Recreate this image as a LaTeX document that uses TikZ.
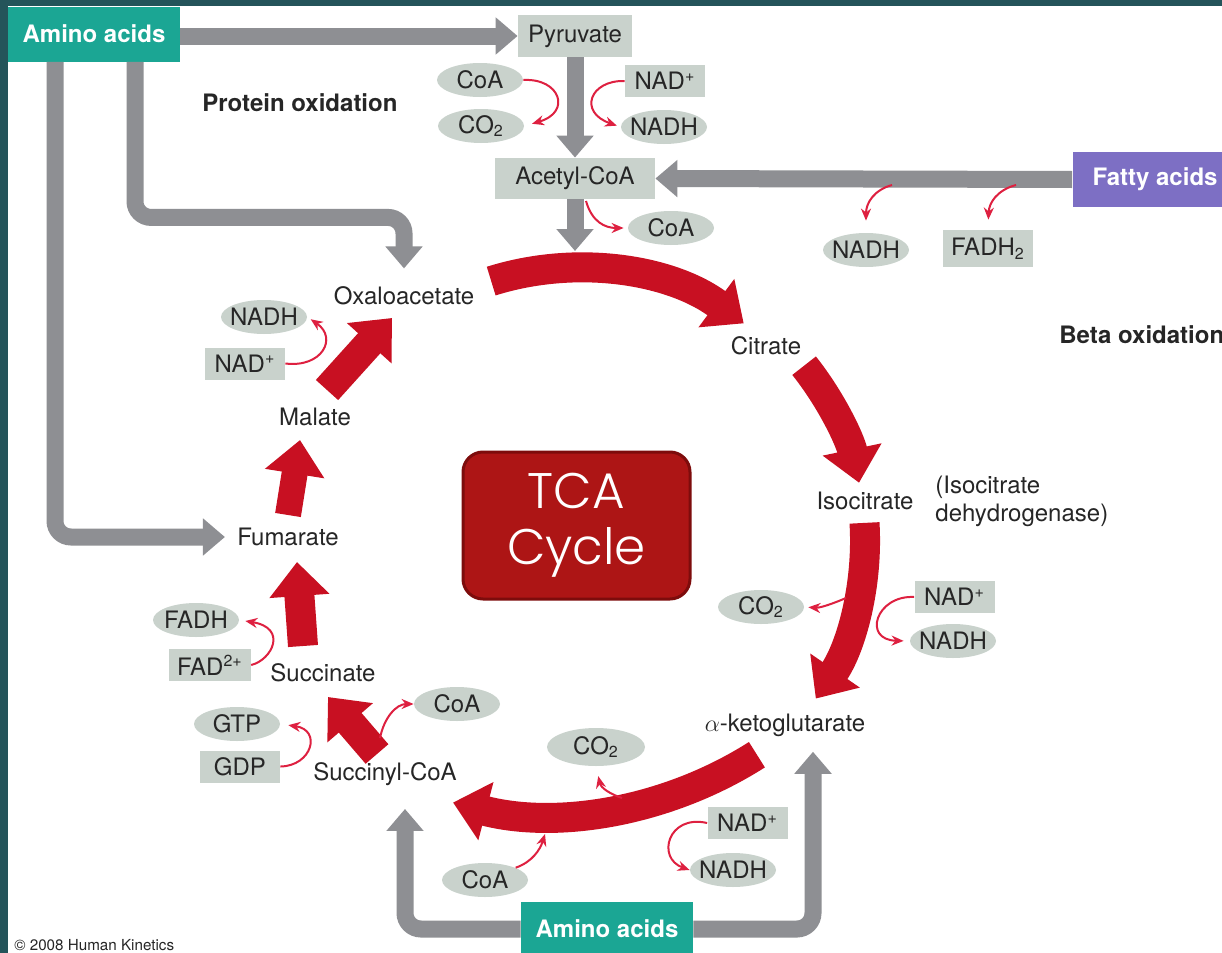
\documentclass[tikz,border=0pt]{standalone}
\usepackage{fontspec}
\setmainfont{TeX Gyre Heros}
\newfontfamily\tcafont{Poppins Light}
\usetikzlibrary{arrows.meta,shapes.geometric}

\definecolor{frameteal}{RGB}{36,84,90}
\definecolor{aateal}{RGB}{27,166,148}
\definecolor{fapurple}{RGB}{125,111,196}
\definecolor{molfill}{RGB}{201,210,204}
\definecolor{arrgray}{RGB}{142,143,147}
\definecolor{cycred}{RGB}{200,16,34}
\definecolor{rxnred}{RGB}{222,32,64}
\definecolor{tcafill}{RGB}{173,21,21}
\definecolor{tcaedge}{RGB}{125,12,12}
\definecolor{inkgray}{RGB}{38,38,38}

\begin{document}
\begin{tikzpicture}[x=0.5pt, y=-0.5pt, font=\fontsize{12}{14}\selectfont,
    lbl/.style={text=inkgray, inner sep=1pt},
    boldlbl/.style={lbl, font=\fontsize{12}{14}\selectfont\bfseries, anchor=west},
    molbox/.style={fill=molfill, text=inkgray, minimum width=40pt, minimum height=16pt, inner xsep=4pt, inner ysep=0pt},
    prodell/.style={ellipse, fill=molfill, text=inkgray, minimum width=43pt, minimum height=17pt, inner sep=-2pt},
    aabox/.style={fill=aateal, text=white, font=\fontsize{12}{14}\selectfont\bfseries, minimum width=86pt, minimum height=27.5pt, inner sep=0pt},
    fabox/.style={fill=fapurple, text=white, font=\fontsize{12}{14}\selectfont\bfseries, minimum width=82.5pt, minimum height=27.5pt, inner sep=0pt},
    tcabox/.style={fill=tcafill, draw=tcaedge, line width=1.5pt, rounded corners=10pt, text=white,
        font=\tcafont\fontsize{25}{28}\selectfont, align=center, minimum width=113.5pt, minimum height=73.5pt},
    grayarrow/.style={draw=arrgray, line width=8.5pt, rounded corners=8pt, -{Triangle[width=18pt, length=11pt]}},
    cycarrow/.style={draw=cycred, line width=15pt, -{Triangle[width=29pt, length=17pt]}},
    rxn/.style={draw=rxnred, line width=1pt, -{Stealth[length=6pt, width=5pt]}}]

    % ==========================================
    % 1. FRAME (pixel coordinates, y downwards)
    % ==========================================
    \useasboundingbox (0,0) rectangle (1222,953);
    \fill[frameteal] (0,0) rectangle (1222,953);
    \fill[white] (8,6) rectangle (1222,953);

    % ==========================================
    % 2. METABOLITES
    % ==========================================
    % Feeders
    \node[aabox] (aa1) at (94,34) {Amino acids};
    \node[aabox] (aa2) at (607,929) {Amino acids};
    \node[fabox] (fa) at (1155,179.5) {Fatty acids};
    \node[molbox, minimum width=57pt, minimum height=21pt] (pyr) at (575,36) {Pyruvate};
    \node[molbox, minimum width=80pt, minimum height=20.5pt] (acoa) at (575,178.5) {Acetyl-CoA};

    % Pyruvate dehydrogenase
    \node[prodell] (coa1) at (480,80) {CoA};
    \node[prodell] (co2a) at (481,126) {CO\textsubscript{2}};
    \node[molbox] (nad1) at (665,81) {NAD\textsuperscript{+}};
    \node[prodell] (nadh1) at (664,127) {NADH};
    \node[prodell] (coa2) at (671,228) {CoA};

    % Beta oxidation products
    \node[prodell] (nadh2) at (866,250) {NADH};
    \node[molbox, minimum width=45pt, minimum height=18.5pt] (fadh2) at (988,248.5) {FADH\textsubscript{2}};

    % Cycle intermediates
    \node[lbl] (oaa) at (404,296) {Oxaloacetate};
    \node[lbl] (cit) at (766,346) {Citrate};
    \node[lbl] (iso) at (865,501) {Isocitrate};
    \node[lbl, anchor=west, align=left] (isodh) at (933,501) {(Isocitrate\\dehydrogenase)};
    \node[lbl] (akg) at (785,725) {$\alpha$-ketoglutarate};
    \node[lbl] (sca) at (385,774) {Succinyl-CoA};
    \node[lbl] (succ) at (323,673) {Succinate};
    \node[lbl] (fum) at (288,537) {Fumarate};
    \node[lbl] (mal) at (315,417) {Malate};

    % Cofactors round the cycle
    \node[molbox] (nad3) at (954.5,597) {NAD\textsuperscript{+}};
    \node[prodell] (nadh3) at (953,641) {NADH};
    \node[prodell] (co2b) at (761,607) {CO\textsubscript{2}};
    \node[prodell, minimum width=49pt, minimum height=19pt] (co2c) at (596,747) {CO\textsubscript{2}};
    \node[molbox] (nad4) at (747.5,823) {NAD\textsuperscript{+}};
    \node[prodell] (nadh4) at (733,870) {NADH};
    \node[prodell] (coa4) at (485,880) {CoA};
    \node[prodell] (coa3) at (457,704) {CoA};
    \node[prodell] (gtp) at (237,724) {GTP};
    \node[molbox] (gdp) at (240,766.5) {GDP};
    \node[prodell] (fadh) at (196,620) {FADH};
    \node[molbox] (fad) at (210,665) {FAD\textsuperscript{2+}};
    \node[prodell] (nadh5) at (264,317) {NADH};
    \node[molbox] (nad5) at (245,363.5) {NAD\textsuperscript{+}};

    % Titles
    \node[tcabox] (tca) at (576.5,525.5) {TCA\\Cycle};
    \node[boldlbl] (prot) at (200,103) {Protein oxidation};
    \node[boldlbl] (beta) at (1057,335) {Beta oxidation};
    \node[lbl, anchor=west, font=\fontsize{7.6}{9}\selectfont] (copy) at (12,945) {\textcopyright{} 2008 Human Kinetics};

    % ==========================================
    % 3. GRAY FEEDER ARROWS
    % ==========================================
    \coordinate (cycIn) at (575,251);
    \draw[grayarrow] (aa1.east |- pyr.west) -- (pyr.west);
    \draw[grayarrow] (pyr.south) -- (acoa.north);
    \draw[grayarrow] (acoa.south) -- (cycIn);
    \draw[grayarrow] (fa.west) -- (acoa.east);
    \draw[grayarrow, shorten >=8pt] ([xshift=20.5pt]aa1.south) |- ([yshift=33.5pt]oaa.north) -- (oaa.north);
    \draw[grayarrow, shorten >=5pt] ([xshift=-19.5pt]aa1.south) |- (fum.west);
    \draw[grayarrow] (aa2.west) -| ([xshift=10pt, yshift=-10.5pt]sca.south);
    \draw[grayarrow] (aa2.east) -| ([xshift=14pt, yshift=-6.5pt]akg.south);

    % ==========================================
    % 4. RED CYCLE ARROWS
    % ==========================================
    \coordinate (oaaOut) at (491.2,281.1);
    \coordinate (citOut) at (804.1,365.7);
    \coordinate (isoOut) at (864.5,522.9);
    \coordinate (akgOut) at (756.9,754.7);
    \draw[cycarrow] (oaaOut) arc[start angle=-107.5, end angle=-53.5, radius=282];
    \draw[cycarrow] (citOut) arc[start angle=-38.5, end angle=-11.8, radius=280];
    \draw[cycarrow] (isoOut) arc[start angle=-3.5, end angle=34.5, radius=280];
    \draw[cycarrow] (akgOut) arc[start angle=57.5, end angle=104.6, radius=385];

    \coordinate (scaBase) at (377,754);  \coordinate (succIn) at (328,697);
    \coordinate (succBase) at (303,646); \coordinate (fumIn) at (297,562);
    \coordinate (fumBase) at (288,515);  \coordinate (malIn) at (300,440);
    \coordinate (malBase) at (327,390);  \coordinate (oaaIn) at (392,318);
    \draw[cycarrow] (scaBase) -- (succIn);
    \draw[cycarrow] (succBase) -- (fumIn);
    \draw[cycarrow, line width=13pt] (fumBase) -- (malIn);
    \draw[cycarrow] (malBase) -- (oaaIn);

    % ==========================================
    % 5. SIDE REACTIONS
    % ==========================================
    \coordinate (acoaOut) at (586,201);
    \coordinate (fa1) at (892,185);
    \coordinate (fa2) at (1016,185);
    \coordinate (scaOut) at (380,738);
    \coordinate (iso1) at (846,598);
    \coordinate (kg1) at (622,798);
    \coordinate (kg2) at (545,834);

    \draw[rxn, shorten >=4pt] (coa1.east) .. controls (560,78) and (572,112) .. (co2a.east);
    \draw[rxn, shorten >=2pt] (nad1.west) .. controls (590,80) and (578,112) .. (nadh1.west);
    \draw[rxn, shorten >=2pt] (acoaOut) .. controls (592,222) and (605,228) .. (coa2.west);
    \draw[rxn, shorten >=6pt] (fa1) .. controls (874,190) and (866,203) .. (nadh2.north);
    \draw[rxn, shorten >=5pt] (fa2) .. controls (997,190) and (989,203) .. (fadh2.north);
    \draw[rxn, shorten >=2pt] (nad5.east) .. controls (322,368) and (338,338) .. (nadh5.east);
    \draw[rxn, shorten >=3pt] (fad.east) .. controls (272,660) and (288,628) .. (fadh.east);
    \draw[rxn, shorten >=4pt] (gdp.east) .. controls (312,766) and (322,730) .. (gtp.east);
    \draw[rxn] (scaOut) .. controls (384,718) and (396,704) .. (coa3.west);
    \draw[rxn, shorten >=3pt] (nad3.west) .. controls (876,595) and (862,640) .. (nadh3.west);
    \draw[rxn, shorten >=2pt] (iso1) .. controls (832,604) and (820,608) .. (co2b.east);
    \draw[rxn, shorten >=5pt] (kg1) .. controls (610,794) and (601,788) .. (co2c.south);
    \draw[rxn] (coa4.north east) .. controls (532,862) and (540,850) .. (kg2);
    \draw[rxn] (nad4.west) .. controls (668,814) and (656,858) .. (nadh4.west);

\end{tikzpicture}
\end{document}
